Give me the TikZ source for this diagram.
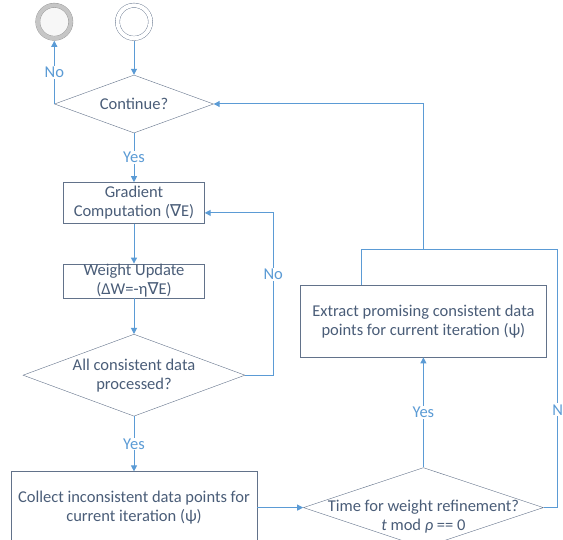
\documentclass[tikz,border=0pt]{standalone}
\usepackage{fontspec}
\setmainfont{Carlito}
\newfontfamily\symfont{DejaVu Sans}
\usepackage{xcolor}
\usetikzlibrary{shapes.geometric, arrows.meta, positioning}
\definecolor{boxc}{HTML}{62728A}
\definecolor{txtc}{HTML}{4A5D78}
\definecolor{linec}{HTML}{5B9BD5}
\newcommand{\nab}{{\symfont\char"2207}}

\begin{document}
\begin{tikzpicture}[x=1pt, y=-1pt, font=\fontsize{16.5}{19}\selectfont,
  box/.style={rectangle, draw=boxc, text=txtc, align=center, minimum width=141pt, inner sep=1pt},
  wide/.style={box, minimum width=246pt, minimum height=72pt},
  decision/.style={diamond, draw=boxc, text=txtc, align=center, inner sep=0pt},
  ring/.style={circle, draw=boxc, minimum size=33pt, outer sep=2.5pt, double distance=4pt},
  arrow/.style={-{Triangle[length=6pt, width=6pt]}, draw=linec, line width=1pt},
  line/.style={draw=linec, line width=1pt},
  lbl/.style={fill=white, text=linec, inner sep=1pt}]
\useasboundingbox (0,0) rectangle (563,540);
\node[decision, minimum width=159pt, minimum height=58pt, aspect=2.74] (cont) at (134,104) {Continue?};
\node[ring, double=white, above=34pt of cont] (start) {};
\node[ring, draw=gray!80, double=gray!45, fill=gray!6] (endc) at (cont.west |- start) {};
\node[box, minimum height=41pt, below=49pt of cont] (grad) {Gradient\\Computation (\nab E)};
\node[box, minimum height=34pt, inner sep=0pt, below=40pt of grad] (upd) {Weight Update\\(ΔW=-η\nab E)};
\node[decision, minimum width=222pt, minimum height=82pt, aspect=2.7, below=36pt of upd] (cons) {All consistent data\\processed?};
\node[wide, below=55pt of cons] (coll) {Collect inconsistent data points for\\current iteration (ψ)};
\node[decision, minimum width=240pt, minimum height=80pt, aspect=3, right=46pt of coll] (time) {};
\node[text=txtc, align=center, inner sep=0pt] (timetxt) at ([yshift=-9pt]time.center) {Time for weight refinement?\\\textit{t} mod \textit{ρ} == 0};
\node[wide, above=110pt of time] (extr) {Extract promising consistent data\\points for current iteration (ψ)};
\coordinate (mrg) at ([yshift=35pt]extr.north);
% main column
\draw[arrow] (start) -- (cont);
\draw[arrow] (cont.west) -- node[lbl] {No} (endc);
\draw[arrow] (cont) -- node[lbl] {Yes} (grad);
\draw[arrow] (grad) -- (upd); \draw[arrow] (upd) -- (cons);
\draw[arrow] (cons.east) -- ++(28,0) |- node[lbl, pos=0.31] {No} ([yshift=-10pt]grad.east);
\draw[arrow] (cons) -- node[lbl] {Yes} (coll);
\draw[arrow] (coll) -- (time);
% refinement loop
\draw[arrow] (time) -- node[lbl] {Yes} (extr);
\draw[line] (time.east) -- ++(14,0) |- node[lbl, pos=0.19] {N} (mrg);
\draw[line] ([xshift=-62pt]extr.north) |- (mrg);
\draw[arrow] (mrg) |- (cont.east);
\end{tikzpicture}
\end{document}
